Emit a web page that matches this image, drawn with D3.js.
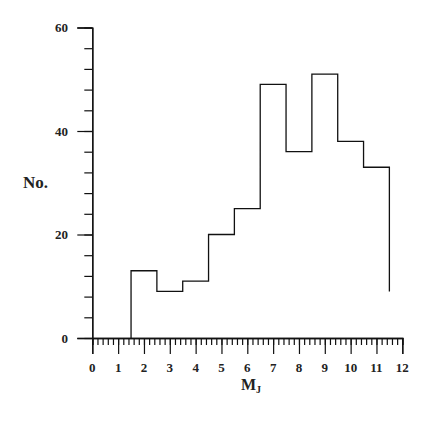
<!DOCTYPE html>
<html>
<head>
<meta charset="utf-8">
<script src="https://cdn.jsdelivr.net/npm/d3@7"></script>
<style>
  body { margin: 0; background: #fff; }
  svg text { font-family: "Liberation Serif", "Times New Roman", serif; font-weight: bold; fill: #222; }
</style>
</head>
<body>
<script>
// bin edges of the histogram (M_J), counts in each bin, last drop value
const binEdges = [1.5, 2.5, 3.5, 4.5, 5.5, 6.5, 7.5, 8.5, 9.5, 10.5, 11.5]
const counts = [13, 9, 11, 20, 25, 49, 36, 51, 38, 33]
const lastValue = 9
const xTicks = [0,1,2,3,4,5,6,7,8,9,10,11,12]
const yTicks = [0, 20, 40, 60]

const width = 437, height = 423

const x = d3.scaleLinear().domain([0, 12]).range([92.3, 402.3])
const y = d3.scaleLinear().domain([0, 60]).range([338, 27.5])

const svg = d3.select("body").append("svg")
  .attr("width", width)
  .attr("height", height)

// step outline
const pts = [[binEdges[0], 0]]
counts.forEach((c, i) => {
  pts.push([binEdges[i], c])
  pts.push([binEdges[i+1], c])
})
pts.push([binEdges[binEdges.length-1], lastValue])

svg.append("path")
  .attr("d", d3.line().x(d => x(d[0])).y(d => y(d[1]))(pts))
  .attr("fill", "none")
  .attr("stroke", "#111")
  .attr("stroke-width", 1.3)

// x axis: majors every 1, minors every 0.2
const xAxis = svg.append("g").attr("transform", `translate(0,${y(0)})`)
xAxis.call(d3.axisBottom(x).tickValues(d3.range(0, 12.001, 0.2)).tickSize(7).tickFormat(""))
xAxis.append("g").call(d3.axisBottom(x).tickValues(xTicks).tickSize(16).tickFormat(""))
xAxis.selectAll(".domain").attr("stroke", "#111").attr("stroke-width", 1.3)
xAxis.selectAll(".tick line").attr("stroke", "#111").attr("stroke-width", 1.2)

svg.append("g").selectAll("text")
  .data(xTicks)
  .join("text")
  .attr("x", d => x(d))
  .attr("y", 372)
  .attr("text-anchor", "middle")
  .style("font-size", "13px")
  .text(d => d)

// y axis: majors every 20, minors every 4
const yAxis = svg.append("g").attr("transform", `translate(${x(0)},0)`)
yAxis.call(d3.axisLeft(y).tickValues(d3.range(0, 60.001, 4)).tickSize(8).tickFormat("").tickSizeOuter(0))
yAxis.append("g").call(d3.axisLeft(y).tickValues(yTicks).tickSize(15).tickFormat(""))
yAxis.selectAll(".domain").attr("stroke", "#111").attr("stroke-width", 1.3)
yAxis.selectAll(".tick line").attr("stroke", "#111").attr("stroke-width", 1.2)

svg.append("g").selectAll("text")
  .data(yTicks)
  .join("text")
  .attr("x", 68)
  .attr("y", d => y(d) + 4.5)
  .attr("text-anchor", "end")
  .style("font-size", "13px")
  .text(d => d)

// axis titles
svg.append("text")
  .attr("x", 23)
  .attr("y", 188)
  .style("font-size", "17px")
  .text("No.")

const xt = svg.append("text")
  .attr("x", 241)
  .attr("y", 390)
  .style("font-size", "16px")
xt.append("tspan").text("M")
xt.append("tspan").attr("dy", 3).style("font-size", "10px").text("J")
</script>
</body>
</html>
